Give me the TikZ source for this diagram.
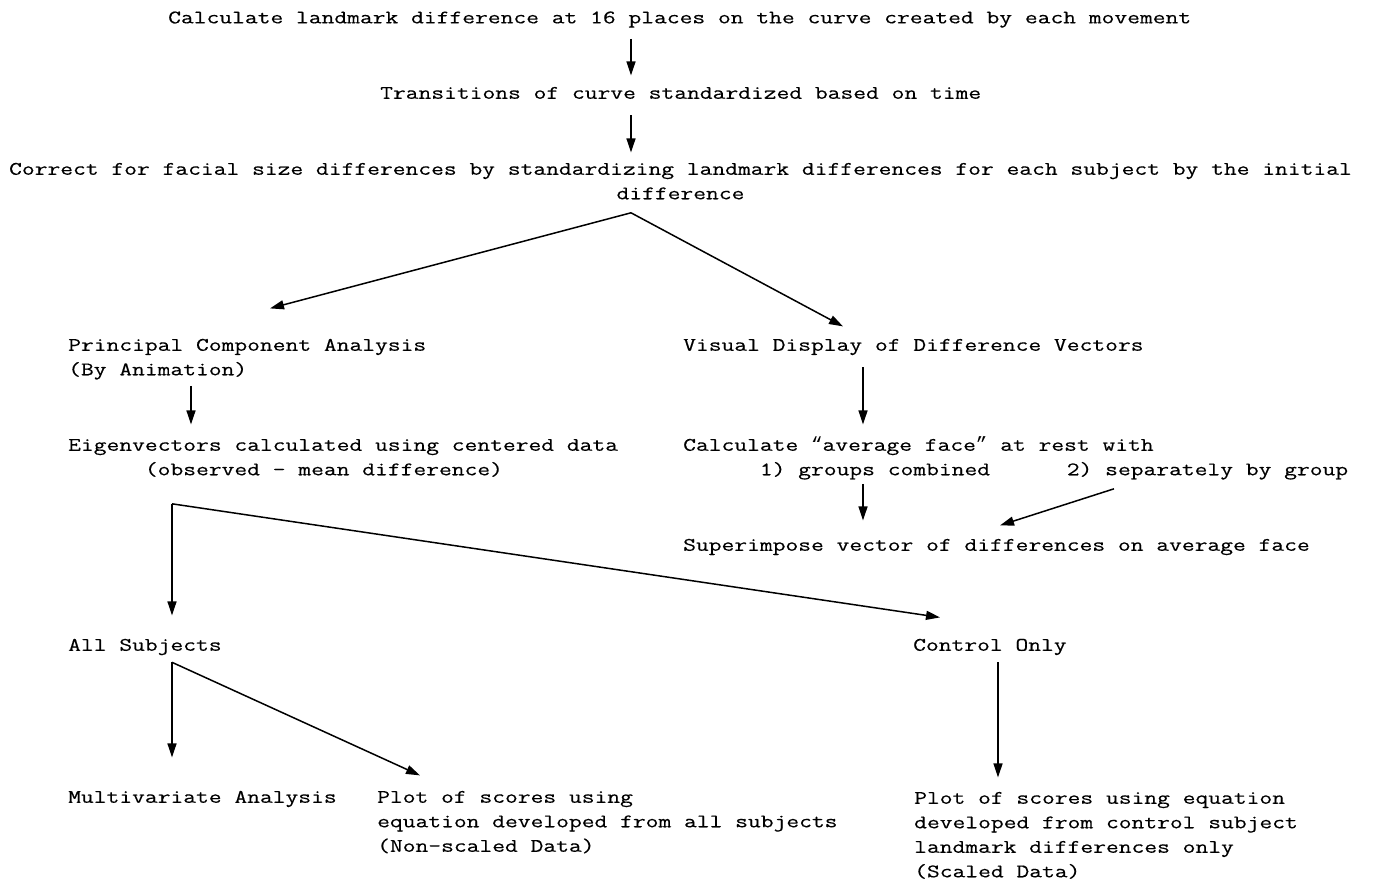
\documentclass[tikz,border=0pt]{standalone}
\usepackage{fontspec}
\setmonofont[FakeStretch=1.3, FakeBold=0.35]{Latin Modern Mono}
\newfontfamily\quotefont{Liberation Mono}
\usepackage{tikz}
\usetikzlibrary{arrows.meta, positioning, calc}

\begin{document}
\begin{tikzpicture}[x=1pt, y=-1pt, >={Triangle[length=14pt, width=9pt]},
    flowtext/.style={font=\ttfamily\fontsize{19.1}{24.5}\selectfont, inner sep=0pt,
        align=left, anchor=north west,
        execute at begin node=\strut, execute at end node=\strut},
    flowarrow/.style={->, line width=1.5pt}]
    \useasboundingbox (0,0) rectangle (1373,884);

    % ── Preparation of the curves ────────────────────────────────────
    \node[flowtext] (calc) at (168,6) {Calculate landmark difference at 16 places on the curve created by each movement};
    \node[flowtext] (trans) at (380,81.4) {Transitions of curve standardized based on time};
    \node[flowtext, align=center, anchor=north] (correct) at (680.5,157.4) {\strut Correct for facial size differences by standardizing landmark differences for each subject by the initial\\difference\strut};

    \draw[flowarrow] ([shift={(463,8)}]calc.south west) -- ([shift={(251,-6)}]trans.north west);
    \draw[flowarrow] ([shift={(251,9)}]trans.south west) -- ([shift={(-49.5,-5)}]correct.north);

    % ── Two branches ─────────────────────────────────────────────────
    \node[flowtext] (pca) at (68,333.4) {\strut Principal Component Analysis\\(By Animation)\strut};
    \node[flowtext] (vis) at (683,333.4) {Visual Display of Difference Vectors};

    \draw[flowarrow] ([shift={(-49.5,6)}]correct.south) -- ([shift={(202,-25)}]pca.north west);
    \draw[flowarrow] ([shift={(-49.5,6)}]correct.south) -- ([shift={(160,-7)}]vis.north west);

    % Left branch: eigenvectors
    \node[flowtext] (eigen) at (68,433.4) {\strut Eigenvectors calculated using centered data\\\hphantom{xxxxxx}(observed - mean difference)\strut};
    \draw[flowarrow] ([shift={(123,3)}]pca.south west) -- ([shift={(123,-9)}]eigen.north west);

    % Right branch: average face
    \node[flowtext] (avg) at (683,433.4) {\strut Calculate {\quotefont“}average face{\quotefont”} at rest with\\\hphantom{xxxxxx}1) groups combined\hphantom{xxxxx} 2) separately by group\strut};
    \node[flowtext] (sup) at (683,533.4) {Superimpose vector of differences on average face};

    \draw[flowarrow] ([shift={(180,9)}]vis.south west) -- ([shift={(180,-9)}]avg.north west);
    \draw[flowarrow] ([shift={(180,1)}]avg.south west) -- ([shift={(180,-13)}]sup.north west);
    \draw[flowarrow] ([shift={(431,6)}]avg.south west) -- ([shift={(317,-8)}]sup.north west);

    % ── Subject groups ───────────────────────────────────────────────
    \node[flowtext] (all) at (68,633.4) {All Subjects};
    \node[flowtext] (ctrl) at (913,633.4) {Control Only};

    \draw[flowarrow] ([shift={(104,21)}]eigen.south west) -- ([shift={(104,-18)}]all.north west);
    \draw[flowarrow] ([shift={(104,21)}]eigen.south west) -- ([shift={(27,-16)}]ctrl.north west);

    % ── Results ──────────────────────────────────────────────────────
    \node[flowtext] (mva) at (68,785.4) {Multivariate Analysis};
    \node[flowtext] (plotall) at (377,785.4) {\strut Plot of scores using\\equation developed from all subjects\\(Non-scaled Data)\strut};
    \node[flowtext] (plotctrl) at (914,786.4) {\strut Plot of scores using equation\\developed from control subject\\landmark differences only\\(Scaled Data)\strut};

    \draw[flowarrow] ([shift={(104,4)}]all.south west) -- ([shift={(104,-28)}]mva.north west);
    \draw[flowarrow] ([shift={(104,4)}]all.south west) -- ([shift={(43,-10)}]plotall.north west);
    \draw[flowarrow] ([shift={(85,4)}]ctrl.south west) -- ([shift={(84,-9)}]plotctrl.north west);
\end{tikzpicture}
\end{document}
